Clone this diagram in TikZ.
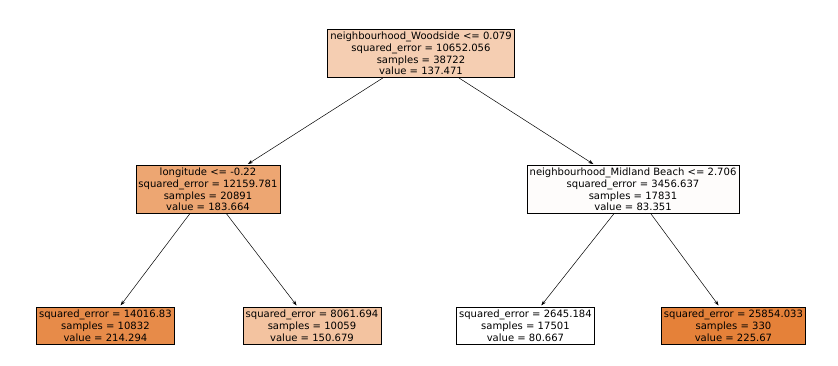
\documentclass[tikz,border=0pt]{standalone}
\usepackage{fontspec}
\setmainfont{DejaVu Sans}
\usepackage{xcolor}
\definecolor{treeorange}{RGB}{229,129,57}
\usetikzlibrary{arrows.meta, positioning}

\tikzset{
  treenode/.style={draw=black, line width=0.6pt, inner sep=2.6pt, align=center,
                   font=\fontsize{10}{11.7}\selectfont},
  treeedge/.style={-{Stealth[length=5pt, width=3.5pt]}, line width=0.5pt, shorten >=2pt}
}

\begin{document}
\begin{tikzpicture}

\useasboundingbox (0,0) rectangle (29.33,12.775);

% === Root split ===
\node[treenode, fill=treeorange!39] (root) at (14.735,10.90)
     {neighbourhood\_Woodside <= 0.079\\squared\_error = 10652.056\\samples = 38722\\value = 137.471};

% === Second level ===
\node[treenode, fill=treeorange!71] (lsplit) at (7.28,6.14)
     {longitude <= -0.22\\squared\_error = 12159.781\\samples = 20891\\value = 183.664};
\node[treenode, fill=treeorange!2] (rsplit) at (22.155,6.14)
     {neighbourhood\_Midland Beach <= 2.706\\squared\_error = 3456.637\\samples = 17831\\value = 83.351};

% === Leaves ===
\node[treenode, fill=treeorange!92] (leafa) at (3.69,1.38)
     {squared\_error = 14016.83\\samples = 10832\\value = 214.294};
\node[treenode, fill=treeorange!48] (leafb) at (10.92,1.38)
     {squared\_error = 8061.694\\samples = 10059\\value = 150.679};
\node[treenode, fill=white] (leafc) at (18.39,1.38)
     {squared\_error = 2645.184\\samples = 17501\\value = 80.667};
\node[treenode, fill=treeorange] (leafd) at (25.67,1.38)
     {squared\_error = 25854.033\\samples = 330\\value = 225.67};

% === Edges ===
\draw[treeedge] (root) -- (lsplit);
\draw[treeedge] (root) -- (rsplit);
\draw[treeedge] (lsplit) -- (leafa);
\draw[treeedge] (lsplit) -- (leafb);
\draw[treeedge] (rsplit) -- (leafc);
\draw[treeedge] (rsplit) -- (leafd);

\end{tikzpicture}
\end{document}
